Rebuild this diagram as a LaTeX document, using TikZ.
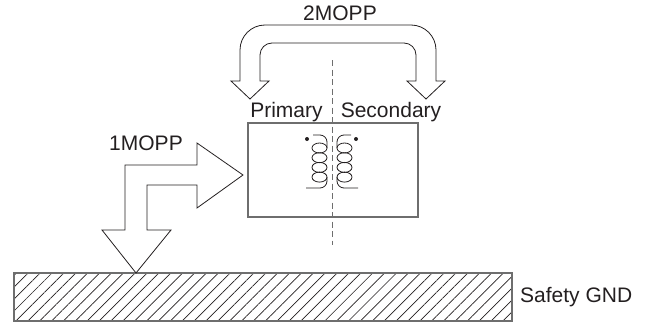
\documentclass[tikz,border=0pt]{standalone}
\usepackage{fontspec}
\setmainfont{Liberation Sans}
\usepackage{tikz}
\usetikzlibrary{patterns.meta,calc}

\definecolor{ink}{RGB}{35,31,32}
\definecolor{edge}{RGB}{110,110,110}

\tikzset{
    lbl/.style={inner sep=0pt, text=ink, font=\fontsize{21}{25}\selectfont},
    fat/.style={draw=ink, line width=0.8pt, line join=miter},
    wire/.style={draw=ink, line width=0.8pt},
}

\begin{document}
\begin{tikzpicture}[x=1pt,y=1pt]
                \useasboundingbox (0,0) rectangle (654,325);

                \node [draw=edge, line width=1.4pt, minimum width=498pt, minimum height=48pt, inner sep=0pt,
                       pattern={Lines[angle=45,distance=8.4pt,line width=0.7pt]}, pattern color=ink] (gnd) at (263,28) {};
                \node [lbl, anchor=base west] (gndlabel) at (520,22.5) {Safety GND};

                \node [draw=edge, line width=1.2pt, minimum width=170pt, minimum height=94pt] (box) at (333,155) {};
                \draw [edge, line width=1pt, dash pattern=on 6pt off 3.5pt] (332,265) -- (332,80);

                \foreach \k in {0,...,3}
                {
                    \draw [wire] (319.5,177-9.7*\k) ellipse (7.5pt and 5pt);
                    \draw [wire] (344.5,177-9.7*\k) ellipse (7.5pt and 5pt);
                }
                \draw [wire] (313,190) -- (320,190) arc (90:0:7pt) -- (327,177);
                \draw [wire] (327,148) -- (327,144) arc (0:-90:7pt) -- (306,137);
                \draw [wire] (351,190) -- (344,190) arc (90:180:7pt) -- (337,177);
                \draw [wire] (337,148) -- (337,144) arc (180:270:7pt) -- (358,137);
                \fill [ink] (307,186) circle (2pt);
                \fill [ink] (356,186) circle (2pt);

                \draw [fat] (231,244) -- (240,244) -- (240,275) arc (180:90:25pt) -- (411,300) arc (90:0:25pt)
                    -- (436,244) -- (445,244) -- (426,226) -- (407,244) -- (416,244) -- (416,270) arc (0:90:12pt)
                    -- (272,282) arc (90:180:12pt) -- (260,244) -- (269,244) -- (250,226) -- cycle;

                \draw [fat] (102,95) -- (125,95) -- (125,160) -- (197,160) -- (197,182) -- (243,150) -- (197,117)
                    -- (197,140) -- (147,140) -- (147,95) -- (171,95) -- (136,52) -- cycle;

                \node [lbl, anchor=base] (mopp2) at (340,304.3) {2MOPP};
                \node [lbl, anchor=base] (prim) at (286.5,207.7) {Primary};
                \node [lbl, anchor=base] (sec) at (391,207.7) {Secondary};
                \node [lbl, anchor=base] (mopp1) at (146,174.3) {1MOPP};
\end{tikzpicture}
\end{document}
